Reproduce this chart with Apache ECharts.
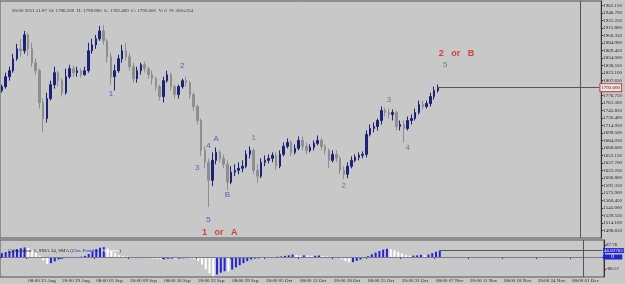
<!DOCTYPE html>
<html><head><meta charset="utf-8">
<script src="https://cdn.jsdelivr.net/npm/echarts@6/dist/echarts.min.js"></script>
<style>html,body{margin:0;padding:0;background:#c8c8c8}#c{width:625px;height:284px}</style>
</head><body><div id="c"></div>
<script>
const opens=[1786.5,1794.7,1815.2,1827.5,1852.1,1872.5,1868.5,1901.2,1872.5,1843.9,
1827.5,1761.9,1729.1,1770.1,1798.8,1823.4,1807.0,1782.4,1815.2,1831.6,
1823.4,1827.5,1819.3,1827.5,1868.5,1880.7,1893.0,1909.4,1888.9,1856.2,
1815.2,1827.5,1852.1,1868.5,1856.2,1835.7,1811.1,1827.5,1839.8,1831.6,
1819.3,1811.1,1794.7,1774.2,1807.0,1819.3,1794.7,1778.3,1794.7,1807.0,
1802.9,1778.3,1753.7,1725.0,1663.5,1638.9,1602.1,1643.0,1659.4,1647.1,
1634.9,1598.0,1618.5,1622.6,1626.7,1630.8,1655.3,1663.5,1622.6,1610.3,
1638.9,1643.0,1647.1,1653.3,1630.8,1655.3,1671.7,1679.9,1659.4,1667.6,
1684.0,1671.7,1663.5,1669.7,1677.9,1684.0,1671.7,1663.5,1643.0,1655.3,
1647.1,1622.6,1614.4,1630.8,1643.0,1649.2,1653.3,1655.3,1696.3,1708.6,
1712.7,1725.0,1745.5,1741.4,1737.3,1741.4,1712.7,1716.8,1708.6,1725.0,
1729.1,1741.4,1757.8,1753.7,1759.9,1774.2,1786.5];
const closes=[1794.7,1815.2,1827.5,1852.1,1872.5,1868.5,1901.2,1872.5,1843.9,1827.5,
1761.9,1729.1,1770.1,1798.8,1823.4,1807.0,1782.4,1815.2,1831.6,1823.4,
1827.5,1819.3,1827.5,1868.5,1880.7,1893.0,1909.4,1888.9,1856.2,1815.2,
1827.5,1852.1,1868.5,1856.2,1835.7,1811.1,1827.5,1839.8,1831.6,1819.3,
1811.1,1794.7,1774.2,1807.0,1819.3,1794.7,1778.3,1794.7,1807.0,1802.9,
1778.3,1753.7,1725.0,1663.5,1638.9,1602.1,1643.0,1659.4,1647.1,1634.9,
1598.0,1618.5,1622.6,1626.7,1630.8,1655.3,1663.5,1622.6,1610.3,1638.9,
1643.0,1647.1,1653.3,1630.8,1655.3,1671.7,1679.9,1659.4,1667.6,1684.0,
1671.7,1663.5,1669.7,1677.9,1684.0,1671.7,1663.5,1643.0,1655.3,1647.1,
1622.6,1614.4,1630.8,1643.0,1649.2,1653.3,1655.3,1696.3,1708.6,1712.7,
1725.0,1745.5,1741.4,1737.3,1741.4,1712.7,1716.8,1708.6,1725.0,1729.1,
1741.4,1757.8,1753.7,1759.9,1774.2,1786.5,1792.6];
const highs=[1798.8,1823.4,1835.7,1862.3,1882.8,1893.0,1909.4,1905.3,1884.8,1852.1,
1831.6,1770.1,1782.4,1807.0,1835.7,1827.5,1811.1,1831.6,1839.8,1837.7,
1835.7,1831.6,1835.7,1884.8,1893.0,1901.2,1919.7,1921.7,1893.0,1864.3,
1839.8,1860.3,1880.7,1884.8,1864.3,1843.9,1835.7,1843.9,1845.9,1835.7,
1827.5,1815.2,1798.8,1815.2,1827.5,1823.4,1798.8,1798.8,1811.1,1815.2,
1807.0,1782.4,1757.8,1729.1,1671.7,1647.1,1659.4,1669.7,1663.5,1655.3,
1643.0,1630.8,1634.9,1638.9,1643.0,1663.5,1671.7,1667.6,1634.9,1647.1,
1653.3,1655.3,1659.4,1659.4,1663.5,1679.9,1688.1,1684.0,1675.8,1692.2,
1692.2,1679.9,1675.8,1684.0,1694.3,1690.2,1675.8,1667.6,1663.5,1663.5,
1651.2,1630.8,1638.9,1651.2,1655.3,1659.4,1661.5,1704.5,1716.8,1720.9,
1729.1,1753.7,1751.7,1749.6,1747.6,1745.5,1725.0,1725.0,1733.2,1737.3,
1749.6,1766.0,1766.0,1766.0,1782.4,1794.7,1798.8];
const lows=[1782.4,1790.6,1807.0,1823.4,1848.0,1856.2,1862.3,1858.2,1835.7,1819.3,
1749.6,1700.4,1720.9,1766.0,1790.6,1794.7,1774.2,1778.3,1811.1,1815.2,
1815.2,1813.1,1817.2,1823.4,1862.3,1872.5,1888.9,1880.7,1843.9,1798.8,
1786.5,1823.4,1843.9,1848.0,1827.5,1802.9,1802.9,1819.3,1823.4,1811.1,
1798.8,1786.5,1766.0,1761.9,1802.9,1786.5,1770.1,1770.1,1790.6,1794.7,
1770.1,1745.5,1716.8,1651.2,1626.7,1546.7,1589.8,1634.9,1638.9,1626.7,
1581.6,1593.9,1610.3,1614.4,1618.5,1626.7,1647.1,1614.4,1595.9,1606.2,
1630.8,1636.9,1638.9,1622.6,1626.7,1651.2,1667.6,1651.2,1655.3,1663.5,
1663.5,1655.3,1659.4,1663.5,1673.8,1663.5,1655.3,1626.7,1638.9,1638.9,
1614.4,1604.1,1606.2,1626.7,1638.9,1643.0,1647.1,1649.2,1692.2,1700.4,
1704.5,1716.8,1733.2,1729.1,1725.0,1704.5,1704.5,1679.9,1704.5,1716.8,
1725.0,1737.3,1747.6,1749.6,1753.7,1768.0,1782.4];
const aoValues=[28,36,44,52,58,64,70,66,52,36,10,-25,-50,-45,-32,-18,-12,-6,-4,-6,
-3,2,8,22,40,58,68,72,62,45,28,14,8,4,-2,-6,-4,-3,-6,-9,
-12,-15,-18,-17,-13,-12,-14,-12,-9,-8,-10,-16,-28,-55,-90,-120,-139,-128,-115,-104,
-106,-92,-76,-60,-45,-30,-18,-12,-10,-11,-7,-4,-2,2,4,8,12,18,14,10,
12,10,8,9,11,8,5,-2,-6,-8,-16,-30,-40,-38,-28,-18,-8,6,20,32,
44,54,60,58,50,38,26,14,9,10,12,16,12,18,28,38,46.83763];
const aoTicks=[-88.57,87.76];
const waveText=['1','2','3','4','5','A','B','1   or   A','1','2','3','4','5','2   or   B'];
const waveBar=[29,48,52,55,55,57,60,58,67,91,103,108,118,121];
const wavePrice=[1780.3,1837.7,1626.7,1673.8,1520.1,1688.1,1571.3,1495.5,1690.2,1589.8,1768.0,1669.7,1839.8,1862.3];
const waveKind=['b','b','b','b','b','b','b','r','g','g','g','g','g','r'];
const separatorBar=154;

// category labels: two bars per trading day
const monthNames=['Jan','Feb','Mar','Apr','May','Jun','Jul','Aug','Sep','Oct','Nov','Dec'];
const hours=['08:00','20:00'];
const categories=[];
{ let d=new Date(Date.UTC(2011,7,17));
  while(categories.length<162){
    const wd=d.getUTCDay();
    if(wd!==0&&wd!==6){
      for(const h of hours){categories.push(h+' '+String(d.getUTCDate()).padStart(2,'0')+' '+monthNames[d.getUTCMonth()]);}
    }
    d.setUTCDate(d.getUTCDate()+1);
  }
}
const cats=categories.slice(1,161);

const candleData=opens.map((o,i)=>[o,closes[i],lows[i],highs[i]]);
const last=closes.length-1;
const aoData=aoValues.map((v,i)=>({value:v,itemStyle:{color:(i===0||v>=aoValues[i-1])?'#2323d2':'#ffffff'}}));
const kindColor={b:'#3a3ad8',g:'#3f7a62',r:'#e01818'};
const waveData=waveText.map((t,i)=>({value:[waveBar[i],wavePrice[i]],name:t,
  label:{color:kindColor[waveKind[i]],fontSize:waveKind[i]==='r'?9:8,fontWeight:waveKind[i]==='r'?'bold':'normal'}}));

const narrow='Liberation Sans Narrow';
const labelInterval=(i)=>(i-7)%9===0&&i>=7;
const chart=echarts.init(document.getElementById('c'),null,{renderer:'canvas'});
chart.setOption({
  animation:false,
  backgroundColor:'#c8c8c8',
  textStyle:{fontFamily:'DejaVu Sans'},
  title:[
    {text:'00:00 2011.11.07  O: '+opens[last].toFixed(3)+'  H: '+highs[last].toFixed(3)+'  L: '+lows[last].toFixed(3)+'  C: '+closes[last].toFixed(3)+'  V: 0  N: 200x334',
     left:7,top:3,textStyle:{fontSize:5,fontWeight:'normal',color:'#333',fontFamily:narrow}},
    {text:'{box|□} Awesome 5, SMA 34, SMA ({p|Clrs. Positive,} {n|Negative})',left:3,top:243,
     textStyle:{fontSize:5,fontWeight:'normal',color:'#222',fontFamily:narrow,rich:{box:{fontSize:6,color:'#222'},p:{fontSize:5,color:'#2323d2',fontFamily:narrow},n:{fontSize:5,color:'#ffffff',fontFamily:narrow}}}},
    {text:'Nov 2011',left:605,top:278,textStyle:{fontSize:5,fontWeight:'normal',color:'#222',fontFamily:narrow}}
  ],
  grid:[
    {left:0,right:21,top:1,height:237,show:true,borderColor:'#555',borderWidth:1,backgroundColor:'transparent'},
    {left:0,right:21,top:240,height:37,show:true,borderColor:'#555',borderWidth:1,backgroundColor:'transparent'}
  ],
  xAxis:[
    {type:'category',gridIndex:0,data:cats,boundaryGap:true,axisLine:{show:false},axisTick:{show:false},axisLabel:{show:false},splitLine:{show:false}},
    {type:'category',gridIndex:1,data:cats,boundaryGap:true,axisLine:{show:true,lineStyle:{color:'#333'}},
     axisTick:{show:true,interval:labelInterval,length:2,lineStyle:{color:'#333'}},
     axisLabel:{show:true,interval:labelInterval,fontSize:5,fontFamily:narrow,color:'#222',align:'left',margin:1},splitLine:{show:false}}
  ],
  yAxis:[
    {type:'value',gridIndex:0,position:'right',min:1483.2,max:1970.9,interval:15.45,
     axisLine:{show:true,lineStyle:{color:'#333'}},axisTick:{show:true,length:2,lineStyle:{color:'#333'}},
     axisLabel:{fontSize:5,fontFamily:narrow,color:'#222',margin:2,showMaxLabel:false,showMinLabel:false,formatter:v=>v.toFixed(3)},splitLine:{show:false}},
    {type:'value',gridIndex:1,position:'right',min:-146.3,max:124.3,
     axisLine:{show:true,lineStyle:{color:'#333'}},axisTick:{show:true,length:2,customValues:aoTicks,lineStyle:{color:'#333'}},
     axisLabel:{fontSize:5,fontFamily:narrow,color:'#222',margin:2,customValues:aoTicks,formatter:v=>String(v)},splitLine:{show:false}}
  ],
  series:[
    {type:'candlestick',xAxisIndex:0,yAxisIndex:0,data:candleData,barWidth:2,
     itemStyle:{color:'#1b2377',color0:'#8e8e8e',borderColor:'#1b2377',borderColor0:'#8e8e8e',borderWidth:1},
     markLine:{silent:true,symbol:'none',animation:false,
       data:[
        [{coord:[last,closes[last]],lineStyle:{color:'#555',width:1,type:'solid'},
          label:{show:true,position:'end',formatter:closes[last].toFixed(3),fontSize:5,fontFamily:narrow,color:'#222',backgroundColor:'#f3e3e0',borderColor:'#c04040',borderWidth:1,padding:[1,1],distance:1}},
         {coord:[cats.length-1,closes[last]]}],
        {xAxis:separatorBar,lineStyle:{color:'#555',width:1,type:'solid'},label:{show:false}}
       ]}},
    {type:'scatter',xAxisIndex:0,yAxisIndex:0,data:waveData,symbolSize:1,itemStyle:{color:'rgba(0,0,0,0)'},z:5,
     label:{show:true,position:'inside',formatter:p=>p.name,fontFamily:'Liberation Sans'}},
    {type:'bar',xAxisIndex:1,yAxisIndex:1,data:aoData,barWidth:2,
     markLine:{silent:true,symbol:'none',animation:false,
       data:[
        [{coord:[0,0],lineStyle:{color:'#7a7a9a',width:1,type:'solid'},
          label:{show:true,position:'end',formatter:'0',fontSize:5,color:'#fff',backgroundColor:'#2323d2',padding:[0,8,0,8],distance:1}},
         {coord:[cats.length-1,0]}],
        [{coord:[last,aoValues[last]],lineStyle:{color:'#555',width:1,type:'solid'},
          label:{show:true,position:'end',formatter:aoValues[last].toFixed(5),fontSize:5,fontFamily:narrow,color:'#fff',backgroundColor:'#2323d2',padding:[0,1],distance:1}},
         {coord:[cats.length-1,aoValues[last]]}],
        {xAxis:separatorBar,lineStyle:{color:'#555',width:1,type:'solid'},label:{show:false}}
       ]}}
  ]
});
</script></body></html>
